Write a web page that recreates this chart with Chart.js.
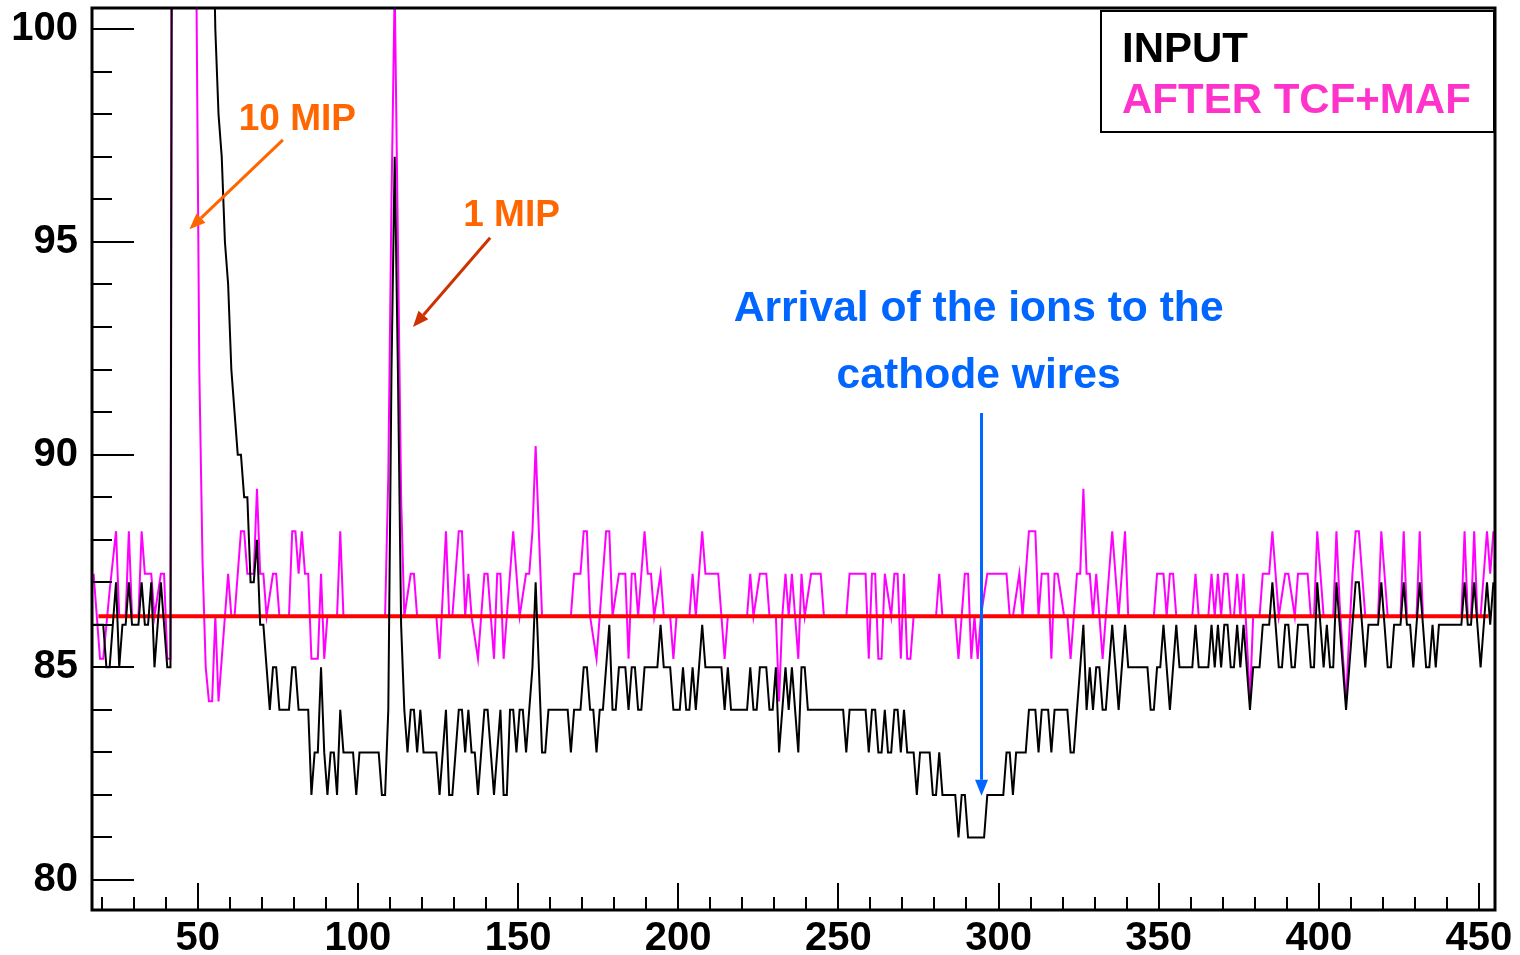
<!DOCTYPE html>
<html>
<head>
<meta charset="utf-8">
<script src="https://cdn.jsdelivr.net/npm/chart.js@4.4.1/dist/chart.umd.min.js"></script>
<style>
  html, body { margin: 0; padding: 0; background: #ffffff; }
  canvas { display: block; }
</style>
</head>
<body>
<canvas id="c" width="1520" height="955"></canvas>
<script>
// ---------------- DATA ----------------
// first time bin (samples are bin centres: bin + 0.5)
const firstBin = 17;

// INPUT signal (ADC counts), bins 17 .. 454
const inputValues = [
  86,86,86,86,85,85,86,87,85,86,
  86,87,86,86,86,87,86,86,87,85,
  86,87,86,85,85,125,140,150,155,150,
  140,130,122,115,110,107,105,104,100,98,
  97,95,94,92,91,90,90,89,89,87,
  87,88,86,86,85,84,85,85,84,84,
  84,84,85,85,84,84,84,84,82,83,
  83,85,83,82,83,83,82,84,83,83,
  83,83,82,83,83,83,83,83,83,83,
  82,82,84,92,97,92,86,84,83,84,
  84,83,84,83,83,83,83,83,82,83,
  84,82,82,83,84,84,83,84,83,83,
  82,83,84,84,83,82,83,84,82,82,
  84,84,83,84,84,83,84,85,87,85,
  83,83,84,84,84,84,84,84,84,83,
  84,84,84,85,85,84,84,83,84,84,
  85,86,84,84,85,85,85,84,85,85,
  84,84,85,85,85,85,85,86,85,85,
  85,84,84,84,85,84,84,85,84,85,
  86,85,85,85,85,85,85,84,85,84,
  84,84,84,84,84,85,84,84,85,85,
  85,84,84,85,83,84,85,84,85,84,
  83,85,85,84,84,84,84,84,84,84,
  84,84,84,84,84,83,84,84,84,84,
  84,84,83,84,84,83,83,84,83,83,
  84,84,83,84,83,83,83,82,83,83,
  83,83,82,82,83,82,82,82,82,82,
  81,82,82,81,81,81,81,81,81,82,
  82,82,82,82,82,83,83,82,83,83,
  83,83,84,84,84,83,84,84,84,83,
  84,84,84,84,84,83,83,84,85,86,
  84,85,84,85,85,84,84,85,86,85,
  84,85,86,85,85,85,85,85,85,85,
  84,84,85,85,86,85,84,85,86,85,
  85,85,85,85,86,85,85,85,85,86,
  85,86,85,86,86,85,85,86,85,86,
  85,84,85,85,85,86,86,86,87,86,
  85,85,86,86,85,85,86,86,86,86,
  85,85,87,86,85,86,85,85,87,86,
  85,84,85,86,87,87,86,85,86,86,
  86,86,87,86,85,85,86,86,86,87,
  86,86,85,86,87,86,85,85,86,85,
  86,86,86,86,86,86,86,86,87,86,
  86,87,86,85,86,87,86,87
];

// AFTER TCF+MAF signal, bins 17 .. 454
const filteredValues = [
  87.2,86.2,85.2,85.2,86.0,86.8,87.5,88.2,86.2,86.2,
  86.2,88.2,86.2,86.2,86.2,88.2,87.2,87.2,87.2,86.2,
  86.7,87.2,87.2,85.2,85.2,140,150,155,150,145,
  135,125,102,92,87.5,85,84.2,84.2,86.2,84.2,
  85.2,86.2,87.2,86.2,86.2,87.2,88.2,88.2,87.2,87.2,
  87.2,89.2,87.2,87.2,86.2,86.7,87.2,87.2,86.2,86.2,
  86.2,86.2,88.2,88.2,87.2,88.2,87.2,87.2,85.2,85.2,
  85.2,87.2,85.2,86.2,86.2,86.2,86.2,88.2,86.2,86.2,
  86.2,86.2,86.2,86.2,86.2,86.2,86.2,86.2,86.2,86.2,
  86.2,86.2,89.5,96,101,95,89,86.2,86.7,87.2,
  87.2,86.2,86.2,86.2,86.2,86.2,86.2,86.2,85.2,86.7,
  88.2,86.2,86.2,87.2,88.2,88.2,86.2,87.2,86.2,85.7,
  85.2,86.2,87.2,87.2,86.2,85.2,87.2,87.2,85.2,86.2,
  87.2,88.2,87.2,86.2,86.7,87.2,87.2,88.2,90.2,88.2,
  86.2,86.2,86.2,86.2,86.2,86.2,86.2,86.2,86.2,86.2,
  87.2,87.2,87.2,88.2,88.2,86.2,85.7,85.2,86.2,87.2,
  88.2,88.2,86.2,86.7,87.2,87.2,87.2,85.2,87.2,87.2,
  86.2,87.2,88.2,87.2,87.2,86.2,86.7,87.2,86.2,86.2,
  86.2,85.2,86.2,86.2,86.2,86.2,86.2,87.2,86.2,87.2,
  88.2,87.2,87.2,87.2,87.2,87.2,86.2,85.2,86.2,86.2,
  86.2,86.2,86.2,86.2,86.2,87.2,86.2,86.7,87.2,87.2,
  87.2,86.2,86.2,86.2,84.2,86.2,87.2,86.2,87.2,86.2,
  85.2,87.2,86.2,86.7,87.2,87.2,87.2,87.2,86.2,86.2,
  86.2,86.2,86.2,86.2,86.2,86.2,87.2,87.2,87.2,87.2,
  87.2,87.2,85.2,87.2,87.2,85.2,85.2,87.2,86.7,86.2,
  87.2,87.2,85.2,87.2,85.2,85.2,86.2,86.2,86.2,86.2,
  86.2,86.2,86.2,86.2,87.2,86.2,86.2,86.2,86.2,86.2,
  85.2,86.2,87.2,87.2,85.2,86.2,85.2,86.2,86.7,87.2,
  87.2,87.2,87.2,87.2,87.2,87.2,86.2,86.2,86.7,87.2,
  86.2,87.2,88.2,88.2,88.2,86.2,87.2,87.2,87.2,85.2,
  87.2,87.2,86.7,86.2,86.2,85.2,86.2,87.2,87.2,89.2,
  87.2,87.2,86.2,87.2,86.2,85.2,86.2,87.2,88.2,87.2,
  86.2,87.2,88.2,86.2,86.2,86.2,86.2,86.2,86.2,86.2,
  86.2,86.2,87.2,87.2,87.2,86.2,87.2,87.2,86.2,86.2,
  86.2,86.2,86.2,86.2,87.2,86.2,86.2,86.2,86.2,87.2,
  86.2,87.2,86.2,87.2,87.2,86.2,86.2,87.2,86.2,87.2,
  85.7,84.2,86.2,86.2,86.2,87.2,87.2,87.2,88.2,87.2,
  86.2,86.7,87.2,87.2,86.7,86.2,87.2,87.2,87.2,87.2,
  86.2,86.2,88.2,87.2,86.2,86.2,86.2,86.2,88.2,86.5,
  85.3,84.2,85.8,87.2,88.2,88.2,87.2,86.2,86.2,86.2,
  86.2,86.2,88.2,87.2,86.2,86.2,86.2,86.2,86.2,88.2,
  86.2,86.2,86.2,86.2,88.2,86.2,86.2,86.2,86.2,86.2,
  86.2,86.2,86.2,86.2,86.2,86.2,86.2,86.2,88.2,86.2,
  86.2,88.2,86.2,86.2,87.2,88.2,87.2,88.2
];

// baseline (pedestal) level and its extent
const baselineLevel = 86.2;
const baselineRange = [19, 453];

// axis ticks
const xTickLabels = [50, 100, 150, 200, 250, 300, 350, 400, 450];
const xMinorTicks = [20,30,40,60,70,80,90,110,120,130,140,160,170,180,190,210,220,230,240,260,270,280,290,310,320,330,340,360,370,380,390,410,420,430,440];
const yTickLabels = [80, 85, 90, 95, 100];
const yMinorTicks = [81,82,83,84,86,87,88,89,91,92,93,94,96,97,98,99];

// legend texts
const legendLabels = ['INPUT', 'AFTER TCF+MAF'];

// ---------------- BUILD ----------------
const toPoints = vals => vals.map((v, i) => ({ x: firstBin + i + 0.5, y: v }));

const inputPts = toPoints(inputValues);
const filteredPts = toPoints(filteredValues);
const baselinePts = baselineRange.map(x => ({ x: x, y: baselineLevel }));

const FONT = '"Liberation Sans", Arial, Helvetica, sans-serif';

// annotation layout (data coordinates)
const annotations = {
  tenMip: { text: '10 MIP', color: '#ff6600', tx: 62.8, ty: 97.88,
            arrow: { from: [76.6, 97.4], to: [47.4, 95.3], color: '#ff6600' } },
  oneMip: { text: '1 MIP', color: '#ff6600', tx: 132.9, ty: 95.62,
            arrow: { from: [141.3, 95.1], to: [117.2, 93.0], color: '#cc3300' } },
  ions: { lines: ['Arrival of the ions to the', 'cathode wires'], color: '#0066ff',
          cx: 293.8, ys: [93.41, 91.84],
          arrow: { from: [294.7, 90.98], to: [294.7, 81.98], color: '#0066ff' } }
};

function drawArrow(ctx, x1, y1, x2, y2, color, lw, headLen, headW) {
  const ang = Math.atan2(y2 - y1, x2 - x1);
  const bx = x2 - headLen * Math.cos(ang);
  const by = y2 - headLen * Math.sin(ang);
  ctx.save();
  ctx.strokeStyle = color;
  ctx.fillStyle = color;
  ctx.lineWidth = lw;
  ctx.beginPath();
  ctx.moveTo(x1, y1);
  ctx.lineTo(bx, by);
  ctx.stroke();
  ctx.beginPath();
  ctx.moveTo(x2, y2);
  ctx.lineTo(bx + headW / 2 * Math.sin(ang), by - headW / 2 * Math.cos(ang));
  ctx.lineTo(bx - headW / 2 * Math.sin(ang), by + headW / 2 * Math.cos(ang));
  ctx.closePath();
  ctx.fill();
  ctx.restore();
}

const framePlugin = {
  id: 'frameTicks',
  afterDatasetsDraw(chart) {
    const { ctx, chartArea: a, scales: { x, y } } = chart;
    ctx.save();
    ctx.strokeStyle = '#000';
    ctx.lineWidth = 2;
    ctx.beginPath();
    // inward y ticks
    yTickLabels.forEach(v => { const p = Math.round(y.getPixelForValue(v)); ctx.moveTo(a.left, p); ctx.lineTo(a.left + 42, p); });
    yMinorTicks.forEach(v => { const p = Math.round(y.getPixelForValue(v)); ctx.moveTo(a.left, p); ctx.lineTo(a.left + 20, p); });
    // inward x ticks
    xTickLabels.forEach(v => { const p = Math.round(x.getPixelForValue(v)); ctx.moveTo(p, a.bottom); ctx.lineTo(p, a.bottom - 27); });
    xMinorTicks.forEach(v => { const p = Math.round(x.getPixelForValue(v)); ctx.moveTo(p, a.bottom); ctx.lineTo(p, a.bottom - 13); });
    ctx.stroke();
    // frame
    ctx.lineWidth = 3;
    ctx.strokeRect(a.left, a.top, a.right - a.left, a.bottom - a.top);
    ctx.restore();
  },
  afterDraw(chart) {
    const { ctx, scales: { x, y } } = chart;
    ctx.save();
    // legend box
    ctx.fillStyle = '#fff';
    ctx.fillRect(1101, 11, 393, 121);
    ctx.strokeStyle = '#000';
    ctx.lineWidth = 2;
    ctx.strokeRect(1101, 11, 393, 121);
    ctx.font = 'bold 42px ' + FONT;
    ctx.textAlign = 'left';
    ctx.textBaseline = 'alphabetic';
    ctx.fillStyle = '#000000';
    ctx.fillText(legendLabels[0], 1122, 62);
    ctx.fillStyle = '#ff33cc';
    ctx.fillText(legendLabels[1], 1122, 113);

    // annotations
    const X = v => x.getPixelForValue(v), Y = v => y.getPixelForValue(v);
    ctx.textBaseline = 'middle';
    ctx.font = 'bold 37px ' + FONT;
    const t = annotations.tenMip;
    ctx.fillStyle = t.color; ctx.textAlign = 'left';
    ctx.fillText(t.text, X(t.tx), Y(t.ty));
    drawArrow(ctx, X(t.arrow.from[0]), Y(t.arrow.from[1]), X(t.arrow.to[0]), Y(t.arrow.to[1]), t.arrow.color, 3, 16, 13);
    const o = annotations.oneMip;
    ctx.fillStyle = o.color;
    ctx.fillText(o.text, X(o.tx), Y(o.ty));
    drawArrow(ctx, X(o.arrow.from[0]), Y(o.arrow.from[1]), X(o.arrow.to[0]), Y(o.arrow.to[1]), o.arrow.color, 3, 16, 13);
    const n = annotations.ions;
    ctx.font = 'bold 42.6px ' + FONT;
    ctx.fillStyle = n.color; ctx.textAlign = 'center';
    n.lines.forEach((s, i) => ctx.fillText(s, X(n.cx), Y(n.ys[i])));
    drawArrow(ctx, X(n.arrow.from[0]), Y(n.arrow.from[1]), X(n.arrow.to[0]), Y(n.arrow.to[1]), n.arrow.color, 3, 16, 13);
    ctx.restore();
  }
};

new Chart(document.getElementById('c'), {
  type: 'line',
  data: {
    datasets: [
      { label: legendLabels[0], data: inputPts, borderColor: '#000000', borderWidth: 2,
        pointRadius: 0, tension: 0, fill: false, order: 0 },
      { label: 'baseline', data: baselinePts, borderColor: '#ff0000', borderWidth: 4,
        pointRadius: 0, tension: 0, fill: false, order: 1 },
      { label: legendLabels[1], data: filteredPts, borderColor: '#ff00ff', borderWidth: 2,
        pointRadius: 0, tension: 0, fill: false, order: 2 }
    ]
  },
  options: {
    responsive: false,
    animation: false,
    layout: { padding: { top: 8, right: 25, left: 0, bottom: 0 } },
    plugins: { legend: { display: false }, tooltip: { enabled: false } },
    scales: {
      x: {
        type: 'linear', position: 'bottom', min: 17, max: 455,
        grid: { display: false }, border: { display: false },
        afterBuildTicks: s => { s.ticks = xTickLabels.map(v => ({ value: v })); },
        afterFit: s => { s.height = 45; s.paddingLeft = 0; s.paddingRight = 0; },
        ticks: { color: '#000', padding: -3, maxRotation: 0, autoSkip: false,
                 font: { family: FONT, size: 40, weight: 'bold' } }
      },
      y: {
        type: 'linear', position: 'left', min: 79.295, max: 100.5,
        grid: { display: false }, border: { display: false },
        afterBuildTicks: s => { s.ticks = yTickLabels.map(v => ({ value: v })); },
        afterFit: s => { s.width = 92; s.paddingTop = 0; s.paddingBottom = 0; },
        ticks: { color: '#000', padding: 6, autoSkip: false,
                 font: { family: FONT, size: 40, weight: 'bold' } }
      }
    }
  },
  plugins: [framePlugin]
});
</script>
</body>
</html>
